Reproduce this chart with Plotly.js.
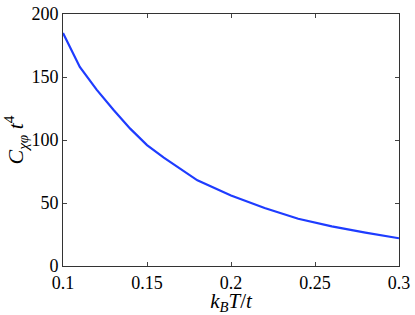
<!DOCTYPE html>
<html>
<head>
<meta charset="utf-8">
<script src="https://cdn.plot.ly/plotly-3.0.1.min.js"></script>
<style>
  html, body { margin: 0; padding: 0; background: #fff; }
  #chart { width: 415px; height: 315px; }
</style>
</head>
<body>
<div id="chart"></div>
<script>
// temperatura k_B T / t
const temps = [0.1, 0.11, 0.12, 0.13, 0.14, 0.15, 0.16, 0.18, 0.2, 0.22, 0.24, 0.26, 0.28, 0.3];
// C_chi_phi t^4
const cValues = [185, 158, 140, 124, 109, 96, 86, 68, 56, 46, 37.5, 31.5, 26.5, 22];

const xTicks = [0.1, 0.15, 0.2, 0.25, 0.3];
const xTickText = ['0.1', '0.15', '0.2', '0.25', '0.3'];
const yTicks = [0, 50, 100, 150, 200];

const serif = 'Liberation Serif';

const trace = {
  x: temps,
  y: cValues,
  mode: 'lines',
  line: { color: 'rgb(30,60,255)', width: 2.2 },
  hoverinfo: 'skip'
};

const tickFont = { family: serif, size: 18, color: '#000' };

const layout = {
  width: 415,
  height: 315,
  font: { family: serif },
  margin: { l: 63, r: 16, t: 14, b: 49 },
  paper_bgcolor: '#fff',
  plot_bgcolor: '#fff',
  showlegend: false,
  xaxis: {
    range: [0.1, 0.3],
    tickvals: xTicks,
    ticktext: xTickText,
    ticks: 'inside',
    ticklen: 4,
    tickcolor: '#444',
    showline: true,
    linecolor: '#333',
    linewidth: 1,
    mirror: 'ticks',
    showgrid: false,
    zeroline: false,
    tickfont: tickFont,
    title: {
      text: '<i>k</i><sub><i>B</i></sub><i>T</i>/<i>t</i>',
      font: { family: serif, size: 21, color: '#000' },
      standoff: 3
    }
  },
  yaxis: {
    range: [0, 200],
    tickvals: yTicks,
    ticks: 'inside',
    ticklen: 4,
    tickcolor: '#444',
    showline: true,
    linecolor: '#333',
    linewidth: 1,
    mirror: 'ticks',
    showgrid: false,
    zeroline: false,
    tickfont: tickFont,
    title: {
      text: '<i>C</i><sub><i>χφ</i></sub> <i>t</i><sup>4</sup>',
      font: { family: serif, size: 22, color: '#000' },
      standoff: 5
    }
  }
};

Plotly.newPlot('chart', [trace], layout, { staticPlot: true });
</script>
</body>
</html>
